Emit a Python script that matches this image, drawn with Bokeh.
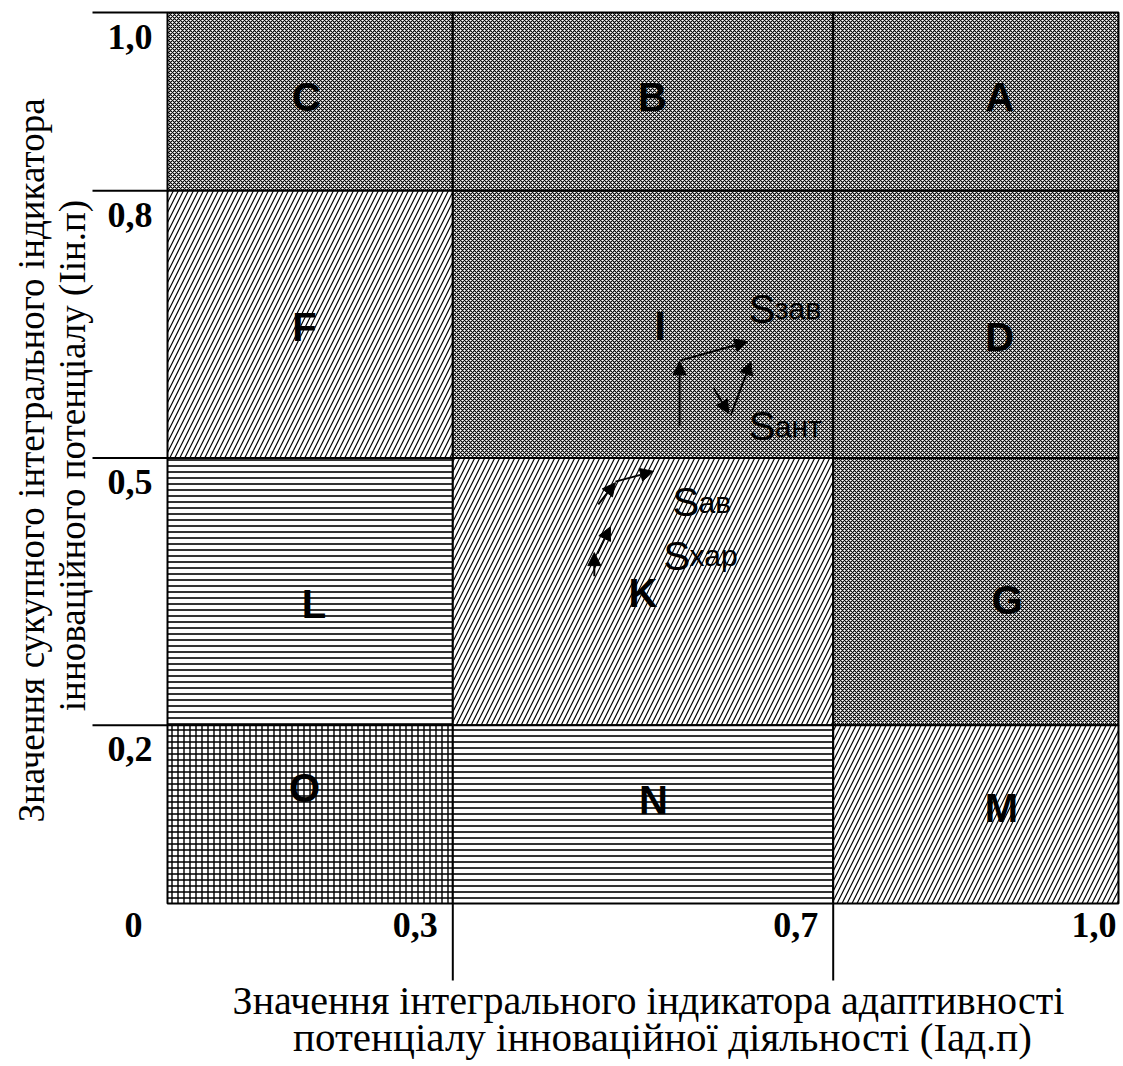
import math
from bokeh.plotting import figure
from bokeh.models import ColumnDataSource, Range1d, Arrow, NormalHead
from bokeh.core.properties import value
from bokeh.embed import file_html
from bokeh.resources import INLINE

# ---------------- data ----------------
x_ticks = [0.0, 0.3, 0.7, 1.0]
x_tick_labels = ["0", "0,3", "0,7", "1,0"]
y_ticks = [1.0, 0.8, 0.5, 0.2]
y_tick_labels = ["1,0", "0,8", "0,5", "0,2"]

zone_names = ["C", "B", "A", "F", "I", "D", "L", "K", "G", "O", "N", "M"]
zone_left = [0.0, 0.3, 0.7, 0.0, 0.3, 0.7, 0.0, 0.3, 0.7, 0.0, 0.3, 0.7]
zone_right = [0.3, 0.7, 1.0, 0.3, 0.7, 1.0, 0.3, 0.7, 1.0, 0.3, 0.7, 1.0]
zone_bottom = [0.8, 0.8, 0.8, 0.5, 0.5, 0.5, 0.2, 0.2, 0.2, 0.0, 0.0, 0.0]
zone_top = [1.0, 1.0, 1.0, 0.8, 0.8, 0.8, 0.5, 0.5, 0.5, 0.2, 0.2, 0.2]
zone_kind = ["dense", "dense", "dense",
             "diag", "dense", "dense",
             "horiz", "diag", "dense",
             "grid", "horiz", "diag"]
zone_label_x = [0.146, 0.510, 0.875, 0.144, 0.518, 0.875,
                0.154, 0.500, 0.883, 0.144, 0.511, 0.877]
zone_label_y = [0.905, 0.905, 0.905, 0.647, 0.648, 0.636,
                0.336, 0.348, 0.341, 0.130, 0.116, 0.107]

# trajectory arrows (start -> end)
arrow_x0 = [0.5385, 0.5385, 0.5744, 0.5923, 0.4530, 0.4710, 0.4488, 0.4520]
arrow_y0 = [0.5357, 0.6093, 0.5781, 0.5480, 0.4480, 0.4735, 0.3673, 0.3927]
arrow_x1 = [0.5385, 0.6103, 0.5902, 0.6135, 0.4710, 0.5110, 0.4488, 0.4657]
arrow_y1 = [0.6082, 0.6305, 0.5502, 0.6082, 0.4723, 0.4850, 0.3938, 0.4227]

strat_x = [0.6113, 0.6113, 0.5311, 0.5216]
strat_y = [0.6673, 0.5357, 0.4504, 0.3904]
strat_main = ["S", "S", "S", "S"]
strat_sub = ["зав", "ант", "ав", "хар"]

y_title = ["Значення сукупного інтегрального індикатора",
           "інноваційного потенціалу (Іін.п)"]
x_title = ["Значення інтегрального індикатора адаптивності",
           "потенціалу інноваційної діяльності (Іад.п)"]

# ---------------- styles ----------------
hatch_style = {
    "dense": ("x", 4, 1.1),
    "diag": ("/", 10, 1.2),
    "horiz": ("-", 6, 1.6),
    "grid": ("+", 6, 1.4),
}

W, H = 1120, 1064
x0_px, sx = 167.0, 951.0     # x=0 at 167 px, x=1 at 1118 px
y0_px, sy = 903.0, 891.0     # y=0 at 903 px, y=1 at 12 px
xr = Range1d(-x0_px / sx, (W - x0_px) / sx)
yr = Range1d(-(H - y0_px) / sy, y0_px / sy)

p = figure(width=W, height=H, x_range=xr, y_range=yr,
           output_backend="svg", toolbar_location=None,
           x_axis_location=None, y_axis_location=None,
           min_border=0, background_fill_color="white",
           border_fill_color="white")
p.outline_line_color = None
p.grid.visible = False

cells = ColumnDataSource(dict(
    left=zone_left, right=zone_right, bottom=zone_bottom, top=zone_top,
    pat=[hatch_style[k][0] for k in zone_kind],
    hs=[hatch_style[k][1] for k in zone_kind],
    hw=[hatch_style[k][2] for k in zone_kind],
))
p.quad(left="left", right="right", bottom="bottom", top="top", source=cells,
       fill_color="white", hatch_pattern="pat", hatch_scale="hs",
       hatch_weight="hw", hatch_color="black",
       line_color="black", line_width=2)

# extended division lines (left of frame and below)
ext_left = (92.0 - x0_px) / sx
ext_down = (y0_px - 980.0) / sy
p.segment(x0=[ext_left] * len(y_ticks), x1=[0.0] * len(y_ticks),
          y0=y_ticks, y1=y_ticks, line_color="black", line_width=2)
inner_x = [t for t in x_ticks if 0 < t < 1]
p.segment(x0=inner_x, x1=inner_x, y0=[ext_down] * len(inner_x),
          y1=[0.0] * len(inner_x), line_color="black", line_width=2)

# zone letters
p.text(x=zone_label_x, y=zone_label_y, text=zone_names,
       text_font=value("Liberation Sans"), text_font_style="bold",
       text_font_size="40px", text_align="center", text_baseline="middle",
       text_color="black")

# arrows
arr = ColumnDataSource(dict(x0=arrow_x0, y0=arrow_y0, x1=arrow_x1, y1=arrow_y1))
p.add_layout(Arrow(x_start="x0", y_start="y0", x_end="x1", y_end="y1",
                   source=arr, line_color="black", line_width=2,
                   end=NormalHead(size=13, fill_color="black",
                                  line_color="black", line_width=1)))

# strategy labels
p.text(x=strat_x, y=strat_y, text=strat_main,
       text_font=value("Liberation Sans"), text_font_size="40px",
       text_align="left", text_baseline="alphabetic", text_color="black")
p.text(x=strat_x, y=strat_y, text=strat_sub, x_offset=26,
       text_font=value("Liberation Sans"), text_font_size="30px",
       text_align="left", text_baseline="alphabetic", text_color="black")

# tick labels
p.text(x=[0.0] * len(y_ticks), y=y_ticks, text=y_tick_labels,
       x_offset=-15, y_offset=12,
       text_font=value("Liberation Serif"), text_font_style="bold",
       text_font_size="36px", text_align="right", text_baseline="top",
       text_color="black")
x_lab_off = [-25, -15, -15, -2]
p.text(x=x_ticks, y=[0.0] * len(x_ticks), text=x_tick_labels,
       x_offset=x_lab_off, y_offset=9,
       text_font=value("Liberation Serif"), text_font_style="bold",
       text_font_size="36px", text_align="right", text_baseline="top",
       text_color="black")

# axis titles
p.text(x=[(31.0 - x0_px) / sx, (72.0 - x0_px) / sx],
       y=[(y0_px - 460.0) / sy, (y0_px - 455.0) / sy], text=y_title,
       angle=math.pi / 2,
       text_font=value("Liberation Serif"), text_font_size="37px",
       text_align="center", text_baseline="middle", text_color="black")
p.text(x=[(648.0 - x0_px) / sx], y=[(y0_px - 1000.0) / sy], text=[x_title[0]],
       text_font=value("Liberation Serif"), text_font_size="40px",
       text_align="center", text_baseline="middle", text_color="black")
p.text(x=[(662.0 - x0_px) / sx], y=[(y0_px - 1036.0) / sy], text=[x_title[1]],
       text_font=value("Liberation Serif"), text_font_size="41px",
       text_align="center", text_baseline="middle", text_color="black")

open("out.html", "w").write(file_html(p, INLINE))
